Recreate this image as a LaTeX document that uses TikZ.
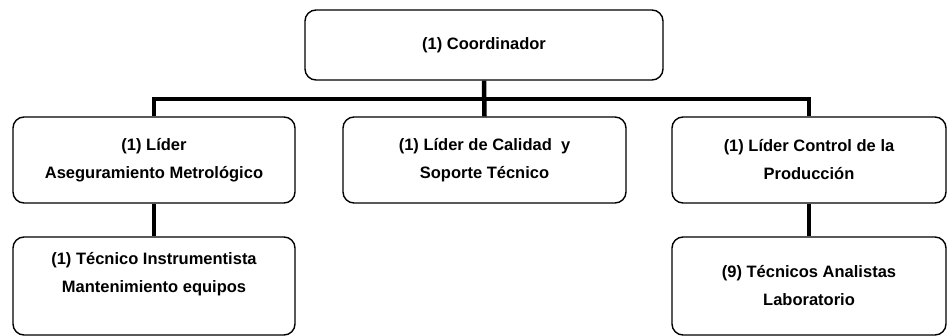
\documentclass[tikz,border=0pt]{standalone}
\usepackage{fontspec}
\setmainfont{Liberation Sans}
\begin{document}
\begin{tikzpicture}[x=1pt,y=-1pt,
  box/.style={draw=black, line width=1.4pt, rounded corners=11pt, fill=white,
    align=center, inner sep=0pt, font=\fontsize{16.5}{28}\selectfont\bfseries},
  wire/.style={draw=black, line width=4.5pt}]
\useasboundingbox (0,0) rectangle (948,336);
\node[box, minimum width=358, minimum height=70] (coord) at (484,45) {(1) Coordinador};
\node[box, minimum width=282, minimum height=86] (l1) at (154,160) {(1) Líder\\Aseguramiento Metrológico};
\node[box, minimum width=283, minimum height=86] (l2) at (484.5,160) {(1) Líder de Calidad\ \ y\\Soporte Técnico};
\node[box, minimum width=274, minimum height=86] (l3) at (809,160) {(1) Líder Control de la\\Producción};
\node[box, minimum width=282, minimum height=98] (t1) at (154,286) {(1) Técnico Instrumentista\\Mantenimiento equipos\\\mbox{}};
\node[box, minimum width=274, minimum height=98] (t2) at (809,286) {(9) Técnicos Analistas\\Laboratorio};
\coordinate (bus) at (484,99);
\draw[wire] (coord.south) -- (l2.north);
\draw[wire] (l1.north) |- (bus) -| (l3.north);
\draw[wire] (l1.south) -- (t1.north);
\draw[wire] (l3.south) -- (t2.north);
\end{tikzpicture}
\end{document}
